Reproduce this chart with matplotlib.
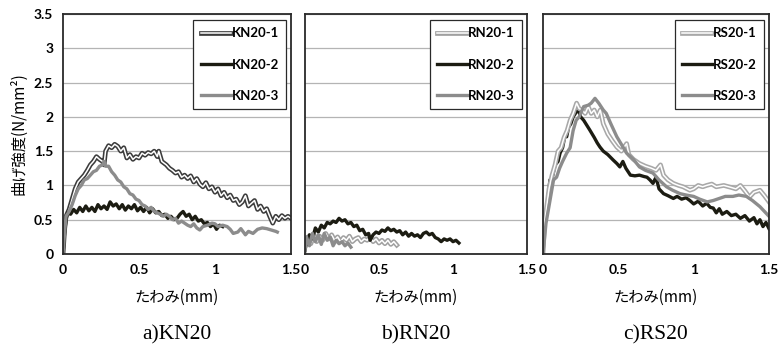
import matplotlib
matplotlib.use("Agg")
import matplotlib.pyplot as plt
from matplotlib.legend_handler import HandlerTuple

# deflection (mm), bending strength (N/mm2)
kn20_1 = [(0, 0), (0.01, 0.35), (0.02, 0.55), (0.04, 0.65), (0.06, 0.8), (0.08, 0.95), (0.10, 1.05),
          (0.12, 1.1), (0.14, 1.15), (0.16, 1.22), (0.18, 1.3), (0.20, 1.35), (0.22, 1.42), (0.24, 1.38),
          (0.26, 1.35), (0.27, 1.30), (0.28, 1.50), (0.30, 1.58), (0.32, 1.55), (0.34, 1.60), (0.36, 1.57),
          (0.38, 1.50), (0.40, 1.55), (0.42, 1.40), (0.44, 1.45), (0.46, 1.38), (0.48, 1.42), (0.50, 1.40),
          (0.52, 1.47), (0.54, 1.44), (0.56, 1.48), (0.58, 1.46), (0.60, 1.50), (0.62, 1.42), (0.63, 1.50),
          (0.65, 1.35), (0.68, 1.30), (0.70, 1.25), (0.72, 1.22), (0.74, 1.18), (0.76, 1.20), (0.78, 1.12),
          (0.80, 1.15), (0.82, 1.10), (0.84, 1.14), (0.86, 1.05), (0.88, 1.10), (0.90, 1.02), (0.92, 0.98),
          (0.94, 1.04), (0.96, 0.95), (0.98, 0.98), (1.00, 0.90), (1.02, 0.95), (1.04, 0.85), (1.06, 0.90),
          (1.08, 0.82), (1.10, 0.86), (1.12, 0.78), (1.14, 0.80), (1.16, 0.72), (1.18, 0.76), (1.20, 0.85),
          (1.22, 0.70), (1.24, 0.74), (1.26, 0.78), (1.28, 0.65), (1.30, 0.70), (1.32, 0.62), (1.34, 0.66),
          (1.36, 0.55), (1.38, 0.45), (1.40, 0.55), (1.42, 0.50), (1.44, 0.56), (1.46, 0.52), (1.48, 0.55),
          (1.50, 0.52)]
kn20_2 = [(0, 0), (0.01, 0.3), (0.02, 0.5), (0.03, 0.6), (0.05, 0.58), (0.07, 0.65), (0.09, 0.6),
          (0.11, 0.68), (0.13, 0.62), (0.15, 0.7), (0.17, 0.63), (0.19, 0.68), (0.21, 0.62), (0.23, 0.72),
          (0.25, 0.66), (0.27, 0.7), (0.29, 0.65), (0.31, 0.76), (0.33, 0.7), (0.35, 0.73), (0.37, 0.66),
          (0.39, 0.72), (0.41, 0.64), (0.43, 0.7), (0.45, 0.66), (0.47, 0.72), (0.49, 0.63), (0.51, 0.68),
          (0.53, 0.62), (0.55, 0.68), (0.57, 0.6), (0.59, 0.66), (0.61, 0.6), (0.63, 0.62), (0.65, 0.56),
          (0.67, 0.58), (0.69, 0.52), (0.71, 0.55), (0.73, 0.5), (0.75, 0.52), (0.77, 0.58), (0.79, 0.62),
          (0.81, 0.55), (0.83, 0.58), (0.85, 0.5), (0.87, 0.55), (0.89, 0.48), (0.91, 0.5), (0.93, 0.44),
          (0.95, 0.46), (0.97, 0.4), (0.99, 0.44), (1.01, 0.36), (1.03, 0.42), (1.05, 0.4)]
kn20_3 = [(0, 0), (0.01, 0.3), (0.02, 0.55), (0.04, 0.62), (0.06, 0.72), (0.08, 0.85), (0.10, 0.95),
          (0.12, 1.0), (0.14, 1.08), (0.16, 1.1), (0.18, 1.15), (0.20, 1.2), (0.22, 1.22), (0.24, 1.28),
          (0.26, 1.3), (0.27, 1.35), (0.28, 1.28), (0.30, 1.28), (0.32, 1.2), (0.34, 1.15), (0.36, 1.08),
          (0.38, 1.05), (0.40, 0.98), (0.42, 0.95), (0.44, 0.88), (0.46, 0.86), (0.48, 0.80), (0.50, 0.78),
          (0.52, 0.72), (0.54, 0.70), (0.56, 0.65), (0.58, 0.68), (0.60, 0.62), (0.62, 0.60), (0.64, 0.58),
          (0.66, 0.55), (0.68, 0.58), (0.70, 0.55), (0.72, 0.50), (0.74, 0.52), (0.76, 0.45), (0.78, 0.48),
          (0.80, 0.45), (0.82, 0.42), (0.84, 0.40), (0.86, 0.44), (0.88, 0.38), (0.90, 0.35), (0.92, 0.40),
          (0.95, 0.42), (0.98, 0.45), (1.00, 0.44), (1.02, 0.40), (1.05, 0.42), (1.08, 0.40), (1.10, 0.36),
          (1.12, 0.30), (1.15, 0.32), (1.17, 0.37), (1.20, 0.28), (1.22, 0.33), (1.25, 0.30), (1.28, 0.36),
          (1.31, 0.38), (1.34, 0.37), (1.37, 0.35), (1.40, 0.33), (1.41, 0.32)]

rn20_1 = [(0, 0.1), (0.02, 0.25), (0.04, 0.15), (0.06, 0.28), (0.08, 0.18), (0.10, 0.26), (0.12, 0.2),
          (0.14, 0.3), (0.16, 0.22), (0.18, 0.28), (0.20, 0.2), (0.22, 0.25), (0.24, 0.18), (0.26, 0.24),
          (0.28, 0.2), (0.30, 0.26), (0.32, 0.18), (0.34, 0.22), (0.36, 0.24), (0.38, 0.18), (0.40, 0.22),
          (0.42, 0.2), (0.44, 0.25), (0.46, 0.18), (0.48, 0.22), (0.50, 0.16), (0.52, 0.2), (0.54, 0.15),
          (0.56, 0.2), (0.58, 0.14), (0.60, 0.18), (0.62, 0.13)]
rn20_2 = [(0, 0.05), (0.01, 0.2), (0.02, 0.15), (0.03, 0.28), (0.05, 0.22), (0.07, 0.38), (0.09, 0.32),
          (0.11, 0.42), (0.13, 0.38), (0.15, 0.46), (0.17, 0.44), (0.19, 0.48), (0.21, 0.46), (0.23, 0.52),
          (0.25, 0.48), (0.27, 0.5), (0.29, 0.44), (0.31, 0.46), (0.33, 0.40), (0.35, 0.42), (0.37, 0.34),
          (0.39, 0.36), (0.41, 0.28), (0.43, 0.30), (0.44, 0.20), (0.46, 0.28), (0.48, 0.32), (0.50, 0.30),
          (0.52, 0.35), (0.54, 0.33), (0.56, 0.38), (0.58, 0.34), (0.60, 0.36), (0.62, 0.32), (0.64, 0.34),
          (0.66, 0.28), (0.68, 0.32), (0.70, 0.26), (0.72, 0.30), (0.74, 0.26), (0.76, 0.28), (0.78, 0.24),
          (0.80, 0.30), (0.82, 0.32), (0.84, 0.28), (0.86, 0.30), (0.88, 0.24), (0.90, 0.22), (0.92, 0.18),
          (0.94, 0.22), (0.96, 0.20), (0.98, 0.22), (1.00, 0.18), (1.02, 0.20), (1.04, 0.16)]
rn20_3 = [(0, 0.05), (0.01, 0.25), (0.03, 0.12), (0.05, 0.3), (0.07, 0.18), (0.09, 0.28), (0.11, 0.14),
          (0.13, 0.3), (0.15, 0.2), (0.17, 0.25), (0.19, 0.12), (0.21, 0.2), (0.23, 0.15), (0.25, 0.18),
          (0.27, 0.12), (0.29, 0.16), (0.31, 0.1)]

rs20_1 = [(0, 0), (0.01, 0.45), (0.025, 0.7), (0.04, 0.95), (0.06, 1.15), (0.08, 1.3), (0.10, 1.5),
          (0.12, 1.55), (0.14, 1.7), (0.16, 1.8), (0.18, 1.95), (0.20, 2.05), (0.223, 2.2), (0.24, 2.12),
          (0.26, 2.1), (0.28, 2.05), (0.30, 2.15), (0.32, 2.05), (0.34, 2.1), (0.36, 2.0), (0.38, 2.1),
          (0.40, 1.9), (0.43, 1.75), (0.46, 1.65), (0.49, 1.56), (0.52, 1.5), (0.555, 1.61), (0.57, 1.45),
          (0.60, 1.38), (0.64, 1.32), (0.68, 1.28), (0.72, 1.25), (0.75, 1.22), (0.78, 1.3), (0.80, 1.15),
          (0.83, 1.08), (0.865, 1.03), (0.90, 1.0), (0.93, 0.98), (0.975, 0.93), (1.0, 0.95), (1.03, 1.0),
          (1.06, 0.98), (1.086, 1.0), (1.12, 1.02), (1.15, 0.98), (1.2, 1.0), (1.25, 0.97), (1.28, 0.95),
          (1.31, 1.0), (1.34, 0.92), (1.37, 0.83), (1.40, 0.9), (1.44, 0.93), (1.47, 0.85), (1.50, 0.76)]
rs20_2 = [(0, 0), (0.01, 0.4), (0.02, 0.6), (0.03, 0.75), (0.046, 1.08), (0.06, 1.1), (0.08, 1.3),
          (0.10, 1.35), (0.113, 1.47), (0.13, 1.55), (0.145, 1.72), (0.157, 1.71), (0.17, 1.85),
          (0.185, 1.9), (0.20, 2.0), (0.215, 2.05), (0.234, 2.11), (0.25, 2.0), (0.27, 1.95), (0.29, 1.88),
          (0.31, 1.81), (0.34, 1.7), (0.36, 1.62), (0.378, 1.56), (0.40, 1.5), (0.43, 1.45), (0.466, 1.37),
          (0.49, 1.32), (0.51, 1.27), (0.53, 1.35), (0.55, 1.25), (0.58, 1.15), (0.61, 1.14), (0.64, 1.15),
          (0.67, 1.13), (0.69, 1.12), (0.71, 1.08), (0.73, 1.03), (0.75, 1.12), (0.77, 0.95), (0.80, 0.88),
          (0.83, 0.85), (0.865, 0.81), (0.89, 0.84), (0.92, 0.80), (0.95, 0.82), (0.975, 0.78), (1.0, 0.73),
          (1.03, 0.77), (1.06, 0.7), (1.086, 0.74), (1.11, 0.68), (1.13, 0.67), (1.15, 0.6), (1.17, 0.66),
          (1.19, 0.58), (1.22, 0.62), (1.25, 0.56), (1.28, 0.58), (1.31, 0.52), (1.34, 0.56), (1.37, 0.48),
          (1.40, 0.53), (1.42, 0.44), (1.44, 0.5), (1.46, 0.40), (1.48, 0.46), (1.50, 0.37)]
rs20_3 = [(0, 0), (0.02, 0.45), (0.04, 0.7), (0.07, 1.08), (0.09, 1.12), (0.11, 1.25), (0.13, 1.35),
          (0.157, 1.47), (0.18, 1.55), (0.20, 1.8), (0.22, 1.95), (0.24, 2.0), (0.27, 2.15), (0.30, 2.17),
          (0.32, 2.2), (0.345, 2.27), (0.37, 2.2), (0.40, 2.1), (0.42, 2.05), (0.45, 1.9), (0.49, 1.71),
          (0.52, 1.6), (0.555, 1.47), (0.60, 1.38), (0.64, 1.27), (0.68, 1.22), (0.73, 1.18), (0.77, 1.08),
          (0.82, 0.98), (0.86, 0.93), (0.91, 0.88), (0.95, 0.86), (1.0, 0.84), (1.04, 0.8), (1.09, 0.76),
          (1.13, 0.78), (1.17, 0.81), (1.21, 0.84), (1.26, 0.84), (1.30, 0.86), (1.35, 0.84), (1.39, 0.78),
          (1.44, 0.69), (1.47, 0.62), (1.50, 0.55)]

panels = [
    ("a)KN20", ["KN20-1", "KN20-2", "KN20-3"], [kn20_1, kn20_2, kn20_3], "#3c3c3c"),
    ("b)RN20", ["RN20-1", "RN20-2", "RN20-3"], [rn20_1, rn20_2, rn20_3], "#a0a0a0"),
    ("c)RS20", ["RS20-1", "RS20-2", "RS20-3"], [rs20_1, rs20_2, rs20_3], "#a8a8a8"),
]
x_ticks = [0, 0.5, 1, 1.5]
x_tick_labels = ["0", "0.5", "1", "1.5"]
y_ticks = [0, 0.5, 1, 1.5, 2, 2.5, 3, 3.5]
y_tick_labels = ["0", "0.5", "1", "1.5", "2", "2.5", "3", "3.5"]

W, H = 782, 353
boxes = [(63, 228), (305, 222), (543, 226)]  # left px, width px
top_px, bot_px = 14, 254

tick_font = dict(family="Lato", weight="bold", size=10)
jp = ["Noto Sans CJK JP", "DejaVu Sans"]

fig = plt.figure(figsize=(W / 100, H / 100), dpi=100)

for i, ((caption, names, series, outer_col), (lx, wpx)) in enumerate(zip(panels, boxes)):
    ax = fig.add_axes([lx / W, (H - bot_px) / H, wpx / W, (bot_px - top_px) / H])
    ax.set_xlim(0, 1.5)
    ax.set_ylim(0, 3.5)
    ax.set_yticks(y_ticks)
    ax.set_xticks(x_ticks)
    ax.set_xticklabels(x_tick_labels, fontdict=tick_font)
    if i == 0:
        ax.set_yticklabels(y_tick_labels, fontdict=tick_font)
        ax.set_ylabel("曲げ強度(N/mm²)", family=jp, fontsize=11, labelpad=5)
    else:
        ax.set_yticklabels([])
    ax.tick_params(length=0, pad=7)
    ax.grid(axis="y", color="#b4b4b4", linewidth=0.9)
    ax.set_axisbelow(True)
    for s in ax.spines.values():
        s.set_color("#2a2a2a")
        s.set_linewidth(1.3)

    d1, d2, d3 = series
    x1, y1 = zip(*d1)
    x2, y2 = zip(*d2)
    x3, y3 = zip(*d3)
    outer, = ax.plot(x1, y1, color=outer_col, lw=3.4, solid_joinstyle="round")
    inner, = ax.plot(x1, y1, color="white", lw=1.1, solid_joinstyle="round")
    blk, = ax.plot(x2, y2, color="#1c1c12", lw=2.4, solid_joinstyle="round")
    gry, = ax.plot(x3, y3, color="#8c8c8c", lw=2.4, solid_joinstyle="round")
    if i == 2:
        blk.set_zorder(1.5)

    leg = ax.legend([(outer, inner), blk, gry], names,
                    handler_map={tuple: HandlerTuple(ndivide=1)},
                    loc="upper right", bbox_to_anchor=(0.99, 0.985),
                    prop=dict(family="Lato", weight="bold", size=9.5),
                    handlelength=2.3, handletextpad=0.05, labelspacing=1.45,
                    borderpad=0.55, borderaxespad=0.2, fancybox=False, framealpha=1,
                    edgecolor="#2a2a2a")
    leg.get_frame().set_linewidth(0.9)

    cx = (lx + wpx / 2) / W
    fig.text(cx, 1 - 297 / H, "たわみ(mm)", family=jp, fontsize=11, ha="center", va="center")
    fig.text(cx, 1 - 335 / H, caption, family="Liberation Serif", fontsize=15.5, ha="center", va="center")

fig.savefig("out.png", dpi=100)
